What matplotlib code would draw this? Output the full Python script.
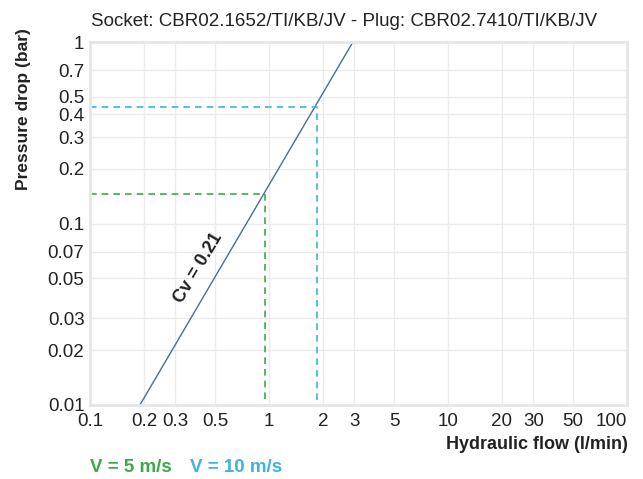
import matplotlib
matplotlib.use("Agg")
import matplotlib.pyplot as plt
from matplotlib.ticker import FixedLocator, NullLocator

plt.rcParams['font.family'] = ['Liberation Sans', 'DejaVu Sans']

# data
flow = [0.19, 2.94]           # l/min
dp = [0.01, 1.0]              # bar
v5_flow, v5_dp = 0.95, 0.145  # V = 5 m/s
v10_flow, v10_dp = 1.85, 0.44 # V = 10 m/s

x_ticks = [0.1, 0.2, 0.3, 0.5, 1, 2, 3, 5, 10, 20, 30, 50, 100]
x_labels = ["0.1", "0.2", "0.3", "0.5", "1", "2", "3", "5", "10", "20", "30", "50", "100"]
y_ticks = [0.01, 0.02, 0.03, 0.05, 0.07, 0.1, 0.2, 0.3, 0.4, 0.5, 0.7, 1]
y_labels = ["0.01", "0.02", "0.03", "0.05", "0.07", "0.1", "0.2", "0.3", "0.4", "0.5", "0.7", "1"]

line_color = "#4b6e8c"
green = "#3aaa48"
blue = "#3bb4e2"

fig = plt.figure(figsize=(6.43, 4.79), dpi=100)
ax = fig.add_axes([0.14, 0.1545, 0.835, 0.7575])
ax.set_xscale("log")
ax.set_yscale("log")
ax.set_xlim(0.1, 100)
ax.set_ylim(0.01, 1)

ax.xaxis.set_major_locator(FixedLocator(x_ticks))
ax.xaxis.set_minor_locator(NullLocator())
ax.set_xticklabels(x_labels)
ax.yaxis.set_major_locator(FixedLocator(y_ticks))
ax.yaxis.set_minor_locator(NullLocator())
ax.set_yticklabels(y_labels)
ax.tick_params(length=0, labelsize=13.5, colors="#222222")
ax.tick_params(axis="x", pad=6)
ax.tick_params(axis="y", pad=4)
# last label is pulled inside the frame
ax.get_xticklabels()[-1].set_ha("right")
ax.grid(True, color="#ebebeb", lw=1)
ax.set_axisbelow(True)
for s in ax.spines.values():
    s.set_color("#e6e6e6")
    s.set_linewidth(2)

ax.plot(flow, dp, color=line_color, lw=1)

# velocity guides
ax.plot([0.1, v5_flow, v5_flow], [v5_dp, v5_dp, 0.01], color=green, lw=1.2, ls=(0, (4, 3)))
ax.plot([0.1, v10_flow, v10_flow], [v10_dp, v10_dp, 0.01], color=blue, lw=1.2, ls=(0, (4, 3)))

ax.text(0.405, 0.057, "Cv = 0.21", rotation=59, ha="center", va="center",
        fontsize=13, fontweight="bold", color="#222222")

fig.text(0.535, 0.955, "Socket: CBR02.1652/TI/KB/JV - Plug: CBR02.7410/TI/KB/JV",
         ha="center", va="center", fontsize=13.5, color="#222222")
fig.text(0.036, 0.772, "Pressure drop (bar)", rotation=90, ha="center", va="center",
         fontsize=12.5, fontweight="bold", color="#222222")
fig.text(0.977, 0.072, "Hydraulic flow (l/min)", ha="right", va="center",
         fontsize=13, fontweight="bold", color="#222222")
fig.text(0.14, 0.024, "V = 5 m/s", ha="left", va="center",
         fontsize=13.5, fontweight="bold", color=green)
fig.text(0.296, 0.024, "V = 10 m/s", ha="left", va="center",
         fontsize=13.5, fontweight="bold", color=blue)

fig.savefig("out.png", dpi=100)
